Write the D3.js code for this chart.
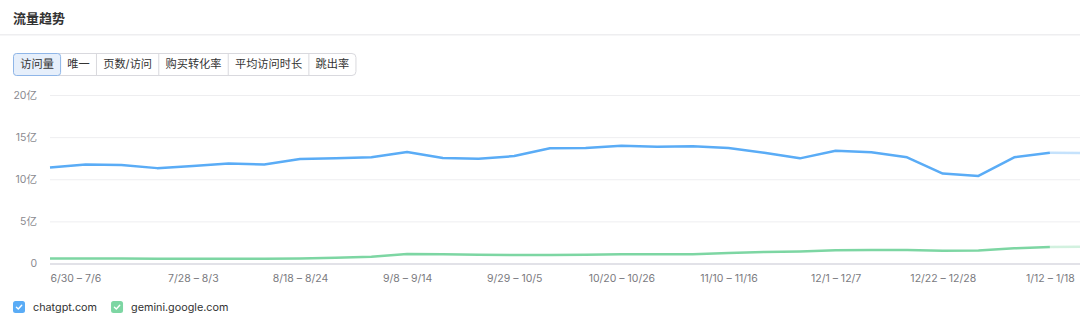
<!DOCTYPE html>
<html>
<head>
<meta charset="utf-8">
<script src="https://cdn.jsdelivr.net/npm/d3@7"></script>
<style>
body { margin: 0; background: #fff; }
svg { display: block; font-family: Inter, "Noto Sans CJK SC", sans-serif; }
</style>
</head>
<body>
<svg id="chart" width="1080" height="325"></svg>
<script>
// weekly buckets, last one is the incomplete current week
var weeks = ["6/30 – 7/6", "7/7 – 7/13", "7/14 – 7/20", "7/21 – 7/27", "7/28 – 8/3",
  "8/4 – 8/10", "8/11 – 8/17", "8/18 – 8/24", "8/25 – 8/31", "9/1 – 9/7",
  "9/8 – 9/14", "9/15 – 9/21", "9/22 – 9/28", "9/29 – 10/5", "10/6 – 10/12",
  "10/13 – 10/19", "10/20 – 10/26", "10/27 – 11/2", "11/3 – 11/9", "11/10 – 11/16",
  "11/17 – 11/23", "11/24 – 11/30", "12/1 – 12/7", "12/8 – 12/14", "12/15 – 12/21",
  "12/22 – 12/28", "12/29 – 1/4", "1/5 – 1/11", "1/12 – 1/18", "1/19 – 1/25"];
// visits, in 亿
var chatgpt = [11.4, 11.76, 11.68, 11.32, 11.56, 11.88, 11.76, 12.4, 12.48, 12.6,
  13.23, 12.51, 12.43, 12.75, 13.67, 13.71, 13.99, 13.87, 13.91, 13.7,
  13.15, 12.48, 13.39, 13.2, 12.6, 10.68, 10.4, 12.6, 13.15, 13.1];
var gemini = [0.6, 0.6, 0.58, 0.55, 0.55, 0.55, 0.56, 0.6, 0.67, 0.8,
  1.13, 1.1, 1.05, 1.0, 1.0, 1.04, 1.1, 1.1, 1.1, 1.24,
  1.36, 1.43, 1.56, 1.6, 1.6, 1.52, 1.55, 1.8, 1.97, 1.98];
var tickWeeks = ["6/30 – 7/6", "7/28 – 8/3", "8/18 – 8/24", "9/8 – 9/14", "9/29 – 10/5",
  "10/20 – 10/26", "11/10 – 11/16", "12/1 – 12/7", "12/22 – 12/28", "1/12 – 1/18"];
var yTicks = [0, 5, 10, 15, 20];
var tabs = ["访问量", "唯一", "页数/访问", "购买转化率", "平均访问时长", "跳出率"];
var seriesNames = ["chatgpt.com", "gemini.google.com"];

var colors = ["#5aacf6", "#7dd6a3"];

var svg = d3.select("#chart"),
    width = +svg.attr("width"),
    height = +svg.attr("height");

// header
svg.append("text")
    .attr("x", 13).attr("y", 23)
    .attr("font-size", 13).attr("font-weight", 700).attr("fill", "#333")
    .text("流量趋势");
svg.append("rect")
    .attr("x", 0).attr("y", 34).attr("width", width).attr("height", 1.5)
    .attr("fill", "#eeeef0");

// tab bar
var tabG = svg.append("g").attr("transform", "translate(13,53)");
var tx = 0, tabPos = [];
var measure = tabG.append("text").attr("font-size", 11.2);
tabs.forEach(function(t) {
  measure.text(t);
  var w = measure.node().getComputedTextLength() + 13.5;
  tabPos.push({ label: t, x: tx, w: w });
  tx += w;
});
measure.remove();

tabG.append("rect")
    .attr("x", 0.5).attr("y", 0.5).attr("width", tx).attr("height", 22)
    .attr("rx", 4).attr("fill", "#fff").attr("stroke", "#d9d9de");
tabG.append("rect")
    .attr("x", 0.5).attr("y", 0.5).attr("width", tabPos[0].w).attr("height", 22)
    .attr("rx", 3).attr("fill", "#e6effb").attr("stroke", "#8fb6e8");

var tab = tabG.selectAll(".tab")
  .data(tabPos)
  .enter().append("g")
    .attr("class", "tab");
tab.filter(function(d, i) { return i > 1; })
  .append("line")
    .attr("x1", function(d) { return d.x + 0.5; })
    .attr("x2", function(d) { return d.x + 0.5; })
    .attr("y1", 1).attr("y2", 22)
    .attr("stroke", "#d9d9de");
tab.append("text")
    .attr("x", function(d) { return d.x + d.w / 2 + 0.5; })
    .attr("y", 11.5)
    .attr("dy", "0.35em")
    .attr("text-anchor", "middle")
    .attr("font-size", 11.2)
    .attr("fill", "#333")
    .text(function(d) { return d.label; });

// scales
var x = d3.scalePoint()
    .domain(weeks)
    .range([50, 50 + (weeks.length - 1) * 35.71]);
var y = d3.scaleLinear()
    .domain([0, 20])
    .range([263.5, 95]);

// grid + y labels
var yAxis = svg.append("g")
    .attr("transform", "translate(50,0)")
    .call(d3.axisLeft(y)
      .tickValues(yTicks)
      .tickSize(-(width - 50))
      .tickPadding(13)
      .tickFormat(function(d) { return d === 0 ? "0" : d + "亿"; }));
yAxis.select(".domain").remove();
yAxis.selectAll(".tick line")
    .attr("stroke", function(d) { return d === 0 ? "#e2e2e8" : "#eeeef0"; })
    .attr("stroke-width", function(d) { return d === 0 ? 2 : 1; });
yAxis.selectAll(".tick text")
    .attr("font-size", 10.5)
    .attr("font-family", "Inter, 'Noto Sans CJK SC', sans-serif")
    .attr("fill", "#8a8a90");

// x labels
var xAxis = svg.append("g")
    .attr("transform", "translate(0,271)")
    .call(d3.axisBottom(x).tickValues(tickWeeks).tickSize(0).tickPadding(4));
xAxis.select(".domain").remove();
xAxis.selectAll(".tick text")
    .attr("font-size", 10.5)
    .attr("font-family", "Inter, 'Noto Sans CJK SC', sans-serif")
    .attr("fill", "#7a7a80")
    .attr("text-anchor", function(d, i) { return i === 0 ? "start" : "middle"; });

// lines: solid for full weeks, faded for the last partial week
var line = d3.line()
    .x(function(d) { return x(d.week); })
    .y(function(d) { return y(d.value); });

var data = [chatgpt, gemini].map(function(vals, k) {
  return {
    name: seriesNames[k],
    color: colors[k],
    points: vals.map(function(v, i) { return { week: weeks[i], value: v }; })
  };
});

var plot = svg.append("g");
data.forEach(function(s) {
  var n = s.points.length;
  plot.append("path")
      .attr("d", line(s.points.slice(n - 2)))
      .attr("fill", "none")
      .attr("stroke", s.color)
      .attr("stroke-opacity", 0.35)
      .attr("stroke-width", 2.5);
  plot.append("path")
      .attr("d", line(s.points.slice(0, n - 1)))
      .attr("fill", "none")
      .attr("stroke", s.color)
      .attr("stroke-width", 2.5)
      .attr("stroke-linejoin", "round");
});

// legend
var legend = svg.append("g").attr("transform", "translate(13,301)");
var lx = 0;
data.forEach(function(s) {
  var item = legend.append("g").attr("transform", "translate(" + lx + ",0)");
  item.append("rect")
      .attr("width", 12).attr("height", 12).attr("rx", 2.5)
      .attr("fill", s.color);
  item.append("path")
      .attr("d", "M3.4,6.2 L5.3,8 L8.7,4.2")
      .attr("fill", "none").attr("stroke", "#fff").attr("stroke-width", 1.4)
      .attr("stroke-linecap", "round").attr("stroke-linejoin", "round");
  var t = item.append("text")
      .attr("x", 20).attr("y", 6).attr("dy", "0.35em")
      .attr("font-size", 10.8).attr("fill", "#333")
      .text(s.name);
  lx += 20 + t.node().getComputedTextLength() + 14;
});
</script>
</body>
</html>
